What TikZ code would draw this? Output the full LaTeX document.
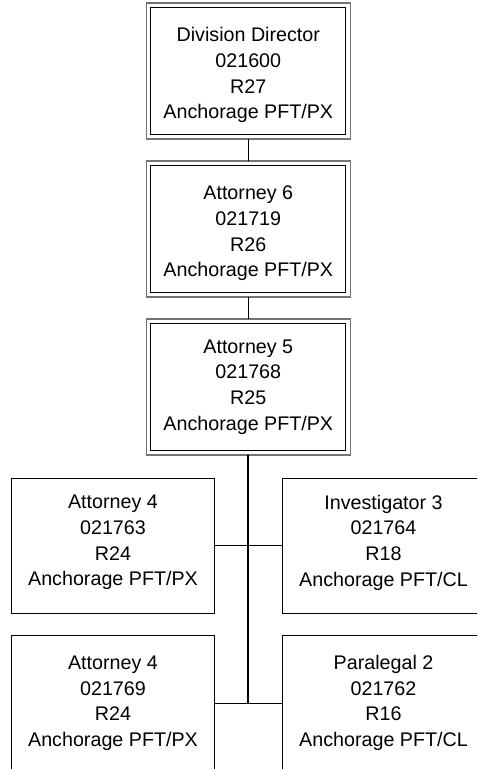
\documentclass[tikz,border=0pt]{standalone}
\usepackage{fontspec}
\setmainfont{Liberation Sans}
\newcommand{\tallstrut}{\rule{0pt}{22.5pt}}
\tikzset{
  every node/.style={outer sep=0pt, inner sep=0pt, align=center,
    font={\fontsize{19.7pt}{25.6pt}\selectfont}},
  topbox/.style={draw=black!55, line width=1.6pt, minimum width=204pt, minimum height=136pt},
  innerframe/.style={draw=black, line width=0.9pt},
  lowbox/.style={draw=black, line width=1pt, minimum width=202.5pt, minimum height=135pt, text depth=10pt},
  bottombox/.style={lowbox, text depth=4.5pt},
  link/.style={draw=black, line width=1pt},
  trunk/.style={draw=black, line width=2.3pt}
}
\begin{document}
\begin{tikzpicture}[x=1pt,y=-1pt]
\useasboundingbox (0,0) rectangle (477,769);
\clip (0,0) rectangle (477,769);
\node[topbox] (n1) at (248.3,71) {\tallstrut Division Director\\021600\\R27\\Anchorage PFT/PX};
\node[topbox] (n2) at (248.3,229) {\tallstrut Attorney 6\\021719\\R26\\Anchorage PFT/PX};
\node[topbox] (n3) at (248.3,387) {Attorney 5\\021768\\R25\\Anchorage PFT/PX};
\foreach \n in {n1,n2,n3}{
  \draw[innerframe] ([shift={(4.6pt,-4.6pt)}]\n.north west) rectangle ([shift={(-4.6pt,4.6pt)}]\n.south east);
}
\node[lowbox] (a) at (113,545.5) {Attorney 4\\021763\\R24\\Anchorage PFT/PX};
\node[lowbox] (b) at (383.5,545.5) {Investigator 3\\021764\\R18\\Anchorage PFT/CL};
\node[bottombox] (c) at (113,703.3) {Attorney 4\\021769\\R24\\Anchorage PFT/PX};
\node[bottombox] (d) at (383.5,703.3) {Paralegal 2\\021762\\R16\\Anchorage PFT/CL};
\coordinate (j2) at (n3.south |- c.east);
\draw[link] (n1.south) -- (n2.north);
\draw[link] (n2.south) -- (n3.north);
\draw[trunk] (n3.south) -- (j2);
\draw[link] (a.east) -- (b.west);
\draw[link] (c.east) -- (d.west);
\end{tikzpicture}
\end{document}
